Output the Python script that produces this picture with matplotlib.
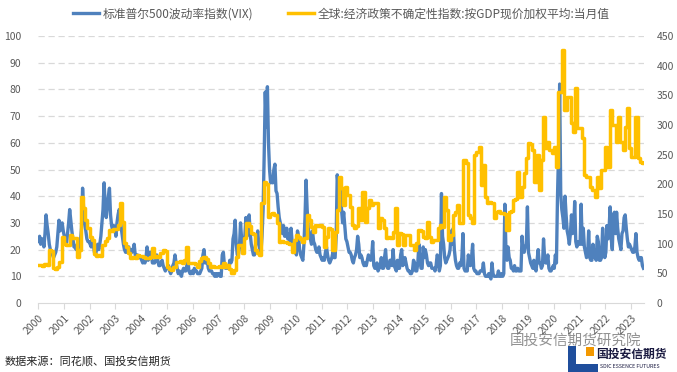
import matplotlib
matplotlib.use("Agg")
import matplotlib.pyplot as plt
from matplotlib.patches import Polygon, Rectangle
import numpy as np

plt.rcParams['font.family'] = ['Noto Sans CJK SC', 'DejaVu Sans']

# ---------------- data ----------------
years = list(range(2000, 2024))
year_labels = [str(y) for y in years]

# VIX, two readings per month (first half / second half), Jan 2000 - Jun 2023
vix_2000 = [23, 25, 22, 24, 24, 21, 26, 33, 29, 26, 22, 20, 19, 18, 17, 18, 19, 21, 26, 31, 27, 29, 30, 27]
vix_2001 = [25, 23, 22, 26, 30, 35, 31, 27, 24, 21, 21, 20, 22, 21, 20, 23, 28, 43, 35, 30, 27, 24, 23, 23]
vix_2002 = [22, 21, 24, 22, 19, 18, 20, 22, 20, 22, 25, 30, 35, 45, 37, 32, 36, 40, 43, 33, 29, 27, 29, 28]
vix_2003 = [25, 30, 33, 35, 34, 28, 25, 22, 20, 19, 19, 21, 21, 19, 20, 19, 20, 22, 18, 17, 18, 17, 17, 17]
vix_2004 = [16, 15, 16, 15, 17, 21, 16, 17, 19, 18, 15, 15, 15, 16, 18, 16, 14, 14, 15, 16, 14, 13, 12, 13]
vix_2005 = [13, 14, 12, 11, 12, 14, 15, 18, 15, 13, 11, 12, 11, 10, 12, 13, 12, 12, 14, 16, 12, 11, 11, 12]
vix_2006 = [11, 13, 12, 12, 11, 11, 11, 12, 13, 18, 20, 15, 15, 16, 13, 12, 12, 12, 11, 11, 10, 11, 10, 11]
vix_2007 = [11, 10, 10, 18, 19, 14, 13, 14, 13, 13, 16, 15, 16, 24, 26, 31, 22, 18, 18, 21, 30, 24, 20, 22]
vix_2008 = [25, 32, 25, 28, 33, 26, 22, 20, 18, 18, 22, 24, 27, 22, 20, 19, 25, 35, 55, 79, 66, 81, 60, 50]
vix_2009 = [45, 47, 45, 50, 52, 42, 41, 36, 32, 30, 28, 26, 29, 25, 25, 28, 24, 26, 22, 28, 23, 21, 21, 20]
vix_2010 = [18, 27, 25, 20, 18, 17, 16, 22, 32, 46, 35, 28, 26, 24, 22, 27, 23, 22, 20, 19, 19, 21, 18, 17]
vix_2011 = [16, 17, 16, 19, 21, 18, 16, 15, 16, 17, 19, 17, 17, 25, 48, 43, 39, 42, 35, 30, 34, 29, 24, 23]
vix_2012 = [21, 19, 19, 18, 16, 15, 17, 18, 20, 25, 22, 17, 18, 17, 15, 14, 15, 14, 16, 18, 17, 16, 17, 23]
vix_2013 = [14, 13, 13, 15, 12, 13, 14, 17, 13, 13, 17, 20, 14, 13, 13, 16, 16, 14, 20, 14, 13, 12, 16, 13]
vix_2014 = [13, 18, 20, 14, 15, 17, 15, 13, 12, 12, 11, 11, 12, 16, 15, 12, 12, 15, 22, 16, 13, 13, 21, 17]
vix_2015 = [20, 18, 15, 14, 15, 15, 13, 13, 13, 12, 14, 18, 17, 12, 14, 41, 25, 22, 17, 15, 16, 17, 18, 20]
vix_2016 = [27, 22, 28, 20, 16, 14, 13, 13, 15, 14, 17, 26, 13, 12, 12, 12, 18, 15, 14, 17, 22, 13, 12, 12]
vix_2017 = [11, 11, 11, 12, 12, 12, 15, 11, 10, 10, 10, 11, 10, 9, 15, 11, 10, 10, 10, 10, 12, 10, 10, 11]
vix_2018 = [10, 11, 37, 20, 16, 21, 17, 16, 13, 13, 12, 14, 12, 12, 13, 12, 12, 12, 25, 20, 19, 21, 22, 36]
vix_2019 = [19, 17, 15, 14, 13, 16, 13, 12, 16, 20, 15, 15, 13, 14, 24, 17, 15, 15, 18, 13, 12, 12, 13, 14]
vix_2020 = [13, 18, 15, 40, 57, 82, 41, 35, 32, 28, 40, 33, 27, 25, 22, 26, 33, 26, 27, 38, 23, 21, 23, 22]
vix_2021 = [22, 37, 22, 28, 21, 19, 17, 18, 27, 17, 16, 16, 22, 18, 17, 16, 25, 23, 16, 16, 17, 28, 21, 17]
vix_2022 = [19, 29, 24, 28, 36, 24, 20, 33, 34, 26, 34, 28, 24, 22, 20, 26, 27, 32, 33, 28, 24, 21, 22, 21]
vix_2023 = [20, 19, 19, 21, 26, 19, 17, 16, 17, 17, 14, 13]

# Global EPU (GDP-weighted, current prices), monthly, Jan 2000 - Jun 2023
epu_2000 = [64, 64, 63, 65, 64, 89, 88, 59, 58, 60, 69, 111]
epu_2001 = [100, 98, 97, 115, 110, 109, 78, 90, 179, 160, 140, 126]
epu_2002 = [112, 106, 82, 80, 81, 80, 98, 104, 110, 123, 122, 124]
epu_2003 = [124, 131, 169, 137, 101, 95, 85, 76, 77, 76, 81, 80]
epu_2004 = [79, 78, 76, 76, 77, 93, 78, 79, 78, 85, 89, 88]
epu_2005 = [61, 58, 56, 60, 69, 69, 70, 68, 72, 95, 67, 68]
epu_2006 = [67, 66, 61, 70, 76, 77, 75, 67, 61, 62, 60, 61]
epu_2007 = [62, 61, 67, 60, 64, 58, 51, 55, 78, 98, 97, 84]
epu_2008 = [110, 135, 130, 118, 116, 89, 84, 81, 169, 204, 200, 145]
epu_2009 = [150, 152, 148, 135, 103, 104, 102, 103, 101, 100, 86, 106]
epu_2010 = [115, 111, 108, 103, 110, 148, 140, 128, 120, 131, 130, 131]
epu_2011 = [128, 95, 112, 126, 124, 89, 120, 157, 212, 194, 165, 196]
epu_2012 = [182, 162, 131, 126, 130, 160, 140, 187, 137, 160, 174, 165]
epu_2013 = [169, 168, 126, 143, 140, 126, 110, 111, 110, 120, 160, 98]
epu_2014 = [118, 117, 98, 115, 114, 98, 97, 89, 101, 123, 122, 111]
epu_2015 = [110, 137, 111, 103, 106, 106, 126, 131, 128, 179, 157, 106]
epu_2016 = [115, 148, 153, 165, 135, 135, 241, 236, 148, 143, 135, 250]
epu_2017 = [255, 263, 199, 233, 179, 169, 170, 168, 143, 153, 155, 152]
epu_2018 = [152, 150, 123, 153, 155, 174, 176, 221, 179, 196, 219, 245]
epu_2019 = [270, 268, 258, 204, 250, 191, 241, 314, 262, 272, 258, 253]
epu_2020 = [263, 229, 356, 356, 427, 325, 347, 347, 303, 288, 363, 295]
epu_2021 = [295, 278, 216, 212, 212, 196, 191, 179, 212, 194, 224, 224]
epu_2022 = [263, 229, 325, 300, 300, 272, 314, 272, 258, 297, 329, 261]
epu_2023 = [246, 246, 314, 245, 238, 236]

vix = (vix_2000 + vix_2001 + vix_2002 + vix_2003 + vix_2004 + vix_2005 + vix_2006 +
       vix_2007 + vix_2008 + vix_2009 + vix_2010 + vix_2011 + vix_2012 + vix_2013 +
       vix_2014 + vix_2015 + vix_2016 + vix_2017 + vix_2018 + vix_2019 + vix_2020 +
       vix_2021 + vix_2022 + vix_2023)
epu = (epu_2000 + epu_2001 + epu_2002 + epu_2003 + epu_2004 + epu_2005 + epu_2006 +
       epu_2007 + epu_2008 + epu_2009 + epu_2010 + epu_2011 + epu_2012 + epu_2013 +
       epu_2014 + epu_2015 + epu_2016 + epu_2017 + epu_2018 + epu_2019 + epu_2020 +
       epu_2021 + epu_2022 + epu_2023)

label_vix = '标准普尔500波动率指数(VIX)'
label_epu = '全球:经济政策不确定性指数:按GDP现价加权平均:当月值'

# x in months since Jan 2000
x_vix = np.arange(len(vix)) * 0.5 + 0.25
x_epu = np.arange(len(epu) + 1)
epu_step = epu + [epu[-1]]

BLUE = '#4F81BD'
GOLD = '#FFC000'
GRID = '#D9D9D9'
TXT = '#595959'

W, H = 677, 372
fig = plt.figure(figsize=(W / 100, H / 100), dpi=100)
ax = fig.add_axes([38 / W, 1 - 303 / H, (644 - 38) / W, (303 - 36) / H])
ax2 = ax.twinx()

ax.set_xlim(0, 282)
ax.set_ylim(0, 100)
ax2.set_ylim(0, 450)

for v in range(10, 101, 10):
    ax.axhline(v, color=GRID, lw=0.9, ls=(0, (5, 3)), zorder=0)

l1, = ax.plot(x_vix, vix, color=BLUE, lw=2.4, zorder=2, label=label_vix)
l2, = ax2.plot(x_epu, epu_step, color=GOLD, lw=2.5, drawstyle='steps-post',
               zorder=3, label=label_epu)

for a in (ax, ax2):
    for s in ('top', 'left', 'right'):
        a.spines[s].set_visible(False)
    a.spines['bottom'].set_color(GRID)
ax2.spines['bottom'].set_visible(False)

ax.set_yticks(range(0, 101, 10))
ax2.set_yticks(range(0, 451, 50))
ax.tick_params(axis='y', length=0, pad=12, labelsize=7.5, labelcolor=TXT)
ax2.tick_params(axis='y', length=0, pad=9, labelsize=7.5, labelcolor=TXT)

ax.set_xticks([12 * i for i in range(len(years))])
ax.set_xticklabels(year_labels, rotation=45, ha='right', va='top',
                   rotation_mode='anchor')
ax.tick_params(axis='x', length=4, color=GRID, width=0.8, pad=3,
               labelsize=7.5, labelcolor=TXT)

fig.legend(handles=[l1, l2], loc='center', bbox_to_anchor=(0.504, 1 - 14 / H),
           ncol=2, frameon=False, fontsize=8.5, handlelength=2.2,
           columnspacing=3.0, handletextpad=0.3, labelcolor=TXT)

fig.text(5 / W, 1 - 361 / H, '数据来源：同花顺、国投安信期货', fontsize=8,
         color='#262626', va='center', ha='left')

# watermark / logo
fig.text(510 / W, 1 - 341 / H, '国投安信期货研究院', fontsize=10.5,
         color='#7F7F7F', alpha=0.85, va='center', ha='left')
fig.patches.append(Polygon([[568 / W, 1 - 346 / H], [576 / W, 1 - 346 / H],
                            [576 / W, 1 - 364 / H], [598 / W, 1 - 364 / H],
                            [598 / W, 1 - 372 / H], [568 / W, 1 - 372 / H]],
                           closed=True, transform=fig.transFigure,
                           facecolor='#1F4E9C', edgecolor='none'))
fig.patches.append(Rectangle((586 / W, 1 - 356 / H), 8 / W, 9 / H,
                             transform=fig.transFigure, facecolor='#F39800',
                             edgecolor='none'))
fig.text(596 / W, 1 - 354 / H, '国投安信期货', fontsize=8.5, fontweight='bold',
         color='#1A1A40', va='center', ha='left')
fig.text(600 / W, 1 - 366 / H, 'SDIC ESSENCE FUTURES', fontsize=3.8,
         color='#1A1A40', va='center', ha='left')

fig.savefig('out.png', dpi=100)
